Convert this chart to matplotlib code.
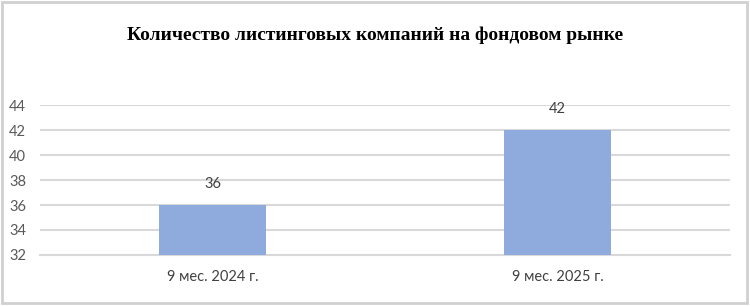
import matplotlib.pyplot as plt
from matplotlib.patches import Rectangle

# Данные
categories = ["9 мес. 2024 г.", "9 мес. 2025 г."]
values = [36, 42]
yticks = [32, 34, 36, 38, 40, 42, 44]

fig = plt.figure(figsize=(7.5, 3.06), dpi=100)
ax = fig.add_axes([0.0533, 0.1667, 0.92, 0.49])

x = range(len(categories))
ax.bar(x, values, width=0.31, color="#8FAADC", zorder=3)

for xi, v in zip(x, values):
    ax.text(xi, v + 1.1, str(v), ha="center", va="bottom",
            fontsize=10.5, color="#404040", family="Lato")

ax.set_xlim(-0.5, 1.5)
ax.set_ylim(32, 44)
ax.set_yticks(yticks)
ax.set_xticks(list(x))
ax.set_xticklabels(categories, family="Lato", fontsize=10.5, color="#404040")
for lbl in ax.get_yticklabels():
    lbl.set_family("Lato")
    lbl.set_fontsize(10.5)
    lbl.set_color("#595959")

ax.grid(axis="y", color="#D9D9D9", linewidth=1.5, zorder=0)
ax.tick_params(length=0, pad=10)
ax.tick_params(axis="x", pad=11)
for s in ["top", "right", "left"]:
    ax.spines[s].set_visible(False)
ax.spines["bottom"].set_color("#D9D9D9")
ax.spines["bottom"].set_linewidth(1.5)

fig.text(0.5, 0.885, "Количество листинговых компаний на фондовом рынке",
         ha="center", va="center", fontsize=14, fontweight="bold",
         family="Liberation Serif", color="black")

# рамка вокруг диаграммы
fig.patches.append(Rectangle((0.003, 0.01), 0.993, 0.985, transform=fig.transFigure,
                             fill=False, edgecolor="#D0D0D0", linewidth=2))

plt.savefig("out.png")
